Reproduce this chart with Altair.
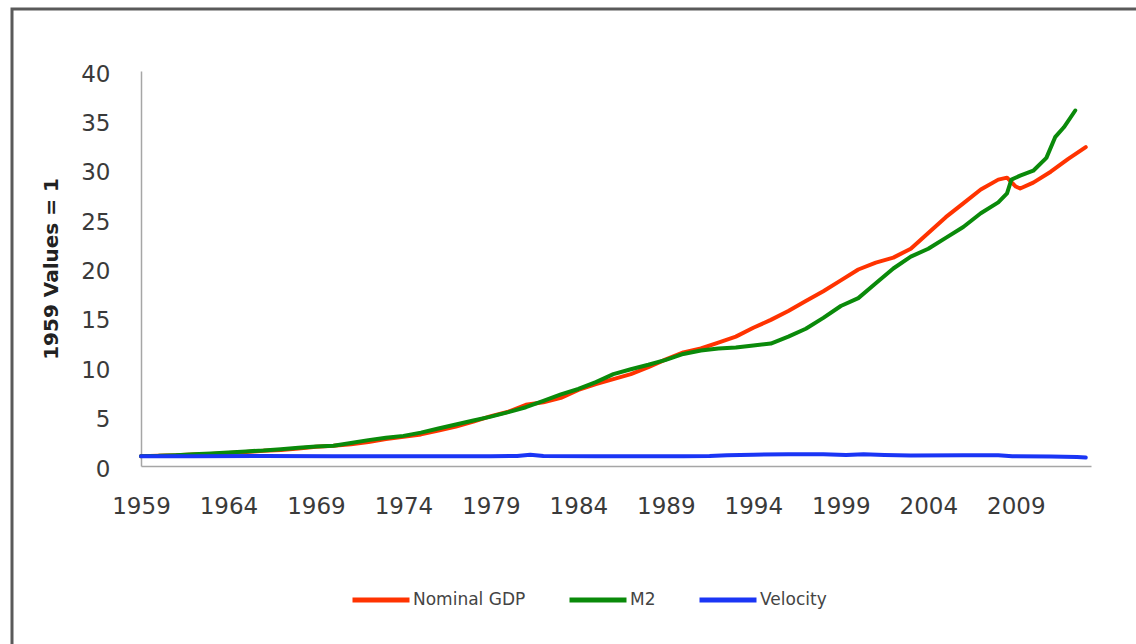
import altair as alt
import pandas as pd

# ---- data (1959 values = 1) ----
gdp_t = [1959, 1960, 1961, 1962, 1963, 1964, 1965, 1966, 1967, 1968, 1969, 1970,
         1971, 1972, 1973, 1974, 1975, 1976, 1977, 1978, 1979, 1980, 1981, 1982,
         1983, 1984, 1985, 1986, 1987, 1988, 1989, 1990, 1991, 1992, 1993, 1994,
         1995, 1996, 1997, 1998, 1999, 2000, 2001, 2002, 2003, 2004, 2005, 2006,
         2007, 2008, 2008.5, 2009, 2009.25, 2010, 2011, 2012, 2013]
gdp_v = [1.00, 1.05, 1.08, 1.16, 1.22, 1.31, 1.42, 1.55, 1.63, 1.78, 1.94, 2.04,
         2.20, 2.42, 2.72, 2.95, 3.20, 3.60, 4.00, 4.50, 5.05, 5.50, 6.20, 6.45,
         6.90, 7.70, 8.30, 8.80, 9.30, 10.0, 10.8, 11.5, 11.9, 12.5, 13.1, 14.0,
         14.8, 15.7, 16.7, 17.7, 18.8, 19.9, 20.6, 21.1, 22.0, 23.6, 25.2, 26.6,
         28.0, 29.0, 29.2, 28.3, 28.1, 28.7, 29.8, 31.1, 32.3]

m2_t = [1959, 1960, 1961, 1962, 1963, 1964, 1965, 1966, 1967, 1968, 1969, 1970,
        1971, 1972, 1973, 1974, 1975, 1976, 1977, 1978, 1979, 1980, 1981, 1982,
        1983, 1984, 1985, 1986, 1987, 1988, 1989, 1990, 1991, 1992, 1993, 1994,
        1995, 1996, 1997, 1998, 1999, 2000, 2001, 2002, 2003, 2004, 2005, 2006,
        2007, 2008, 2008.5, 2008.75, 2009.25, 2010, 2010.75, 2011.25, 2011.75, 2012.4]
m2_v = [1.00, 1.03, 1.10, 1.18, 1.27, 1.37, 1.48, 1.57, 1.70, 1.85, 1.97, 2.05,
        2.32, 2.62, 2.85, 3.05, 3.38, 3.80, 4.20, 4.60, 5.00, 5.45, 5.95, 6.60,
        7.25, 7.80, 8.50, 9.30, 9.80, 10.25, 10.75, 11.35, 11.7, 11.9, 12.0, 12.2,
        12.4, 13.1, 13.9, 15.0, 16.2, 17.0, 18.5, 20.0, 21.2, 22.0, 23.1, 24.2,
        25.6, 26.7, 27.6, 29.0, 29.4, 29.9, 31.2, 33.3, 34.3, 36.0]

vel_t = [1959, 1962, 1966, 1970, 1975, 1979, 1980.5, 1981.25, 1982, 1985, 1990,
         1991.5, 1992.5, 1994, 1996, 1998, 1999.3, 2000.3, 2001.5, 2003, 2006,
         2008, 2008.8, 2011, 2012.5, 2013]
vel_v = [1.00, 1.00, 1.02, 1.00, 0.98, 1.00, 1.02, 1.15, 1.02, 0.98, 1.00,
         1.02, 1.10, 1.15, 1.20, 1.20, 1.12, 1.20, 1.12, 1.06, 1.08,
         1.08, 0.98, 0.96, 0.92, 0.85]

series_names = ["Nominal GDP", "M2", "Velocity"]
series_colors = ["#FF3300", "#0A8A0A", "#1A35F5"]
x_ticks = [1959, 1964, 1969, 1974, 1979, 1984, 1989, 1994, 1999, 2004, 2009]
y_ticks = [0, 5, 10, 15, 20, 25, 30, 35, 40]

rows = []
for name, ts, vs in zip(series_names, [gdp_t, m2_t, vel_t], [gdp_v, m2_v, vel_v]):
    for t, v in zip(ts, vs):
        rows.append({"series": name, "t": t, "value": v})
df = pd.DataFrame(rows)

FONT = "DejaVu Sans"

lines = alt.Chart(df).mark_line(strokeWidth=4, strokeJoin="round", strokeCap="round").encode(
    x=alt.X("t:Q",
            scale=alt.Scale(domain=[1959, 2013.3], nice=False, zero=False),
            axis=alt.Axis(values=x_ticks, format="d", title=None, grid=False,
                          ticks=False, labelPadding=29, labelFontSize=23,
                          labelFont=FONT, labelColor="#3a3a3a",
                          domainColor="#A6A6A6", domainWidth=1.5,
                          labelOverlap=False, labelFlush=False)),
    y=alt.Y("value:Q",
            scale=alt.Scale(domain=[0, 40], nice=False),
            axis=alt.Axis(values=y_ticks, title="1959 Values = 1", grid=False,
                          ticks=False, labelPadding=31, labelFontSize=23,
                          labelFont=FONT, labelColor="#3a3a3a", labelOffset=3,
                          domainColor="#A6A6A6", domainWidth=1.5,
                          titleFont=FONT, titleFontSize=20, titleFontWeight="bold",
                          titleColor="#222222", titlePadding=19)),
    color=alt.Color("series:N",
                    scale=alt.Scale(domain=series_names, range=series_colors),
                    legend=alt.Legend(title=None, orient="none", direction="horizontal",
                                      legendX=209, legendY=498,
                                      symbolType="stroke", symbolSize=3249,
                                      symbolStrokeWidth=5, labelFont=FONT,
                                      labelFontSize=17, labelColor="#444444",
                                      labelOffset=1, columnPadding=33)),
    order=alt.Order("t:Q"),
)

frame = alt.Chart(pd.DataFrame({"a": [0]})).mark_rect(
    filled=False, stroke="#5a5a5a", strokeWidth=3
).encode(
    x=alt.value(-129), x2=alt.value(1150 - 141),
    y=alt.value(9 - 71), y2=alt.value(660 - 71),
)

chart = alt.layer(frame, lines).properties(
    width=950, height=395,
    background="white",
    autosize=alt.AutoSizeParams(type="none"),
    padding={"left": 141, "top": 71, "right": 45, "bottom": 178},
).configure_view(stroke=None, strokeWidth=0)

chart.save("out.html", embed_options={"renderer": "svg", "actions": False})
